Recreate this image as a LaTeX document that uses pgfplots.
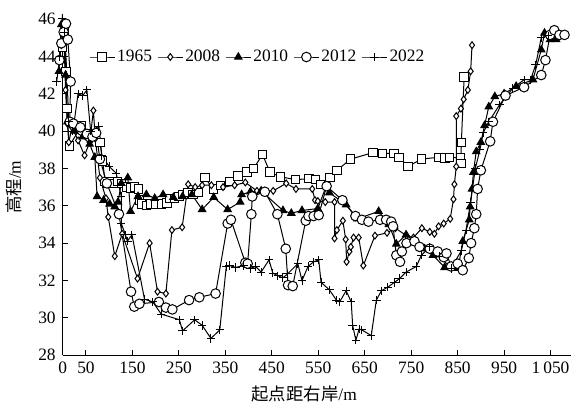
\documentclass[border=0pt]{standalone}
\usepackage{pgfplots}
\pgfplotsset{compat=1.18}
\usepackage{fontspec}
\setmainfont{Liberation Serif}
\newfontfamily\cjk{Noto Sans CJK SC}
\begin{document}
\begin{tikzpicture}[font=\fontsize{8.7}{10}\selectfont]
\begin{axis}[
  scale only axis, width=254pt, height=168pt,
  xmin=0, xmax=1094, ymin=28, ymax=46,
  axis x line=bottom, axis y line=left,
  axis line style={-, line width=0.5pt},
  xtick={0,50,150,250,350,450,550,650,750,850,950,1050},
  xticklabels={0,50,150,250,350,450,550,650,750,850,950,1\,050},
  ytick={28,30,...,46},
  tick align=inside, major tick length=2.5pt,
  tick style={line width=0.5pt, black},
  /pgf/number format/assume math mode=true,
  clip=false,
  xlabel={{\cjk 起点距右岸}/m},
  ylabel={{\cjk 高程}/m},
  xlabel style={at={(axis description cs:0.475,-0.116)}, anchor=center, inner sep=0pt},
  ylabel style={at={(axis description cs:-0.096,0.5)}, anchor=center, inner sep=0pt},
  legend style={draw=none, fill=none, at={(axis description cs:0.052,0.887)}, anchor=west,
    legend columns=-1, inner sep=0pt, outer sep=0pt,
    /tikz/every even column/.append style={column sep=1.6pt},
    nodes={inner sep=1pt}},
  legend image code/.code={\draw[mark repeat=2,mark phase=2] plot coordinates {(0cm,0cm) (0.22cm,0cm) (0.44cm,0cm)};},
  every axis plot/.append style={black, line width=0.5pt},
]
\coordinate (BL) at (rel axis cs:0,0);
\coordinate (TR) at (rel axis cs:1,1);
% 1965
\addplot[mark=square*, mark size=2.1pt, mark options={fill=white}] coordinates {
(0,44.5)(4,45.3)(7,43.2)(9,41.2)(14,39.2)(41,40.3)(52,39.85)(80,39.4)(86,38.4)(91,37.3)(97,37.2)(104,37.3)(110,37.2)(118,37.3)(127,37.2)(138,37.0)(146,36.95)(155,37.0)(163,36.9)(165,36.3)(170,36.1)(180,36.0)(190,36.1)(200,36.1)(212,36.1)(224,36.15)(231,36.4)(240,36.4)(250,36.5)(259,36.6)(270,36.7)(280,36.6)(292,36.7)(306,37.5)(324,36.9)(340,37.1)(360,37.3)(377,37.6)(397,37.8)(411,38.0)(430,38.75)(446,37.8)(469,37.55)(501,37.4)(530,37.45)(544,37.4)(555,37.15)(575,37.5)(590,37.9)(620,38.5)(668,38.85)(688,38.8)(713,38.8)(724,38.6)(743,38.1)(772,38.5)(810,38.6)(823,38.55)(833,38.6)(856,38.55)(857,38.25)(858,39.4)(864,42.9)
};
\addlegendentry{1965}
% 2008
\addplot[mark=diamond*, mark size=1.7pt, mark options={fill=white}] coordinates {
(-3,44.6)(2,45.6)(6,42.2)(10,40.4)(13,39.4)(20,40.2)(33,39.5)(47,38.7)(58,39.4)(66,41.1)(70,39.6)(80,37.5)(93,36.4)(98,35.4)(112,33.3)(128,34.5)(161,32.1)(187,34.0)(204,31.4)(222,31.3)(235,34.7)(257,34.85)(270,37.15)(285,37.0)(300,37.1)(320,37.1)(345,37.0)(370,37.1)(393,37.25)(418,36.8)(453,36.8)(481,37.2)(502,36.9)(537,36.9)(543,36.3)(549,36.25)(565,36.2)(585,36.2)(585,34.25)(590,34.7)(603,35.2)(609,34.2)(611,33.0)(617,33.55)(620,33.8)(626,34.3)(637,34.3)(647,32.8)(672,34.4)(698,34.55)(716,34.8)(740,34.4)(755,34.3)(773,34.8)(790,34.6)(800,34.5)(809,34.9)(820,35.05)(834,35.3)(841,36.35)(843,37.15)(847,38.1)(847,40.8)(857,41.2)(863,41.7)(872,42.2)(878,43.2)(881,44.6)
};
\addlegendentry{2008}
% 2010
\addplot[mark=triangle*, mark size=2.1pt, mark options={fill=black}] coordinates {
(-8,43.2)(-3,45.7)(2,45.3)(6,43.0)(10,40.5)(17,40.4)(25,40.0)(43,39.7)(58,39.3)(69,38.6)(74,36.5)(88,36.3)(101,36.1)(112,35.95)(119,36.2)(126,37.2)(140,37.5)(146,35.7)(162,36.5)(180,36.6)(198,36.4)(216,36.6)(238,36.45)(258,36.5)(278,36.6)(300,35.8)(325,36.45)(355,35.8)(382,36.2)(385,36.6)(404,36.75)(427,36.8)(474,35.75)(492,35.6)(515,35.75)(549,35.85)(567,37.05)(574,36.7)(610,36.05)(634,35.3)(680,35.7)(702,35.0)(718,33.95)(739,34.45)(760,34.0)(779,33.7)(797,33.35)(822,32.7)(851,32.65)(861,34.1)(875,35.25)(877,35.95)(881,36.9)(884,37.8)(890,38.9)(900,39.4)(908,40.3)(917,41.3)(930,41.85)(950,42.0)(976,42.4)(1012,42.75)(1030,44.35)(1037,45.25)(1049,44.9)(1062,44.9)
};
\addlegendentry{2010}
% 2012
\addplot[mark=*, mark size=2.4pt, mark options={fill=white}] coordinates {
(-7,43.8)(-3,44.7)(2,45.3)(7,45.75)(11,44.9)(17,42.65)(15,40.5)(23,40.4)(38,40.2)(52,39.85)(64,39.7)(72,39.9)(80,38.5)(95,37.2)(121,35.55)(147,31.4)(154,30.6)(165,30.75)(207,30.85)(222,30.55)(236,30.45)(272,30.95)(294,31.1)(329,31.3)(355,35.05)(362,35.25)(393,32.95)(398,32.9)(406,35.55)(408,36.5)(435,36.75)(462,35.55)(480,33.7)(485,31.75)(495,31.7)(523,35.2)(529,35.45)(540,35.45)(551,35.5)(568,37.05)(602,36.3)(630,35.45)(644,35.25)(658,35.15)(683,35.25)(696,35.25)(707,35.15)(711,34.9)(718,33.35)(726,33.0)(730,33.55)(740,34.0)(757,34.1)(768,33.8)(790,33.7)(807,33.55)(820,33.25)(826,33.45)(836,32.75)(850,32.9)(861,32.55)(874,33.2)(879,34.0)(886,34.8)(890,35.55)(893,36.9)(900,37.9)(920,39.45)(926,40.5)(953,41.9)(993,42.35)(1030,43.0)(1039,43.8)(1049,45.15)(1058,45.4)(1069,45.15)(1080,45.15)
};
\addlegendentry{2012}
% 2022
\addplot[mark=+, mark size=2.1pt] coordinates {
(-13,42.65)(-6,44.0)(-1,46.05)(4,45.3)(9,43.0)(13,40.5)(22,40.0)(33,42.0)(43,41.9)(52,42.2)(60,40.0)(78,40.25)(84,38.7)(100,38.1)(115,37.75)(126,36.5)(126,35.05)(135,34.45)(139,34.1)(149,34.45)(176,31.0)(194,30.85)(212,30.2)(251,29.9)(258,29.3)(284,29.9)(300,29.6)(319,28.9)(338,29.35)(352,32.75)(359,32.8)(372,32.7)(390,32.8)(404,32.65)(415,32.75)(427,32.45)(444,33.1)(452,32.4)(463,32.25)(474,32.15)(484,32.35)(506,32.9)(515,32.0)(528,32.75)(540,33.0)(551,33.1)(556,31.9)(574,31.5)(589,30.95)(596,30.85)(610,31.45)(621,30.85)(624,29.6)(631,28.8)(638,29.4)(644,29.35)(664,29.05)(675,30.95)(686,31.45)(700,31.65)(714,31.9)(725,32.1)(739,32.45)(761,32.75)(772,33.35)(790,33.8)(810,33.3)(836,32.65)(858,33.6)(868,34.7)(878,36.2)(888,38.0)(898,39.0)(905,39.9)(917,40.5)(940,41.4)(969,42.3)(993,42.75)(1007,42.75)(1018,43.55)(1030,45.0)(1045,45.1)
};
\addlegendentry{2022}
\end{axis}
\pgfresetboundingbox
\path[use as bounding box] ([xshift=-31.35pt,yshift=-26pt]BL) rectangle ([xshift=0.5pt,yshift=9.5pt]TR);
\end{tikzpicture}
\end{document}
